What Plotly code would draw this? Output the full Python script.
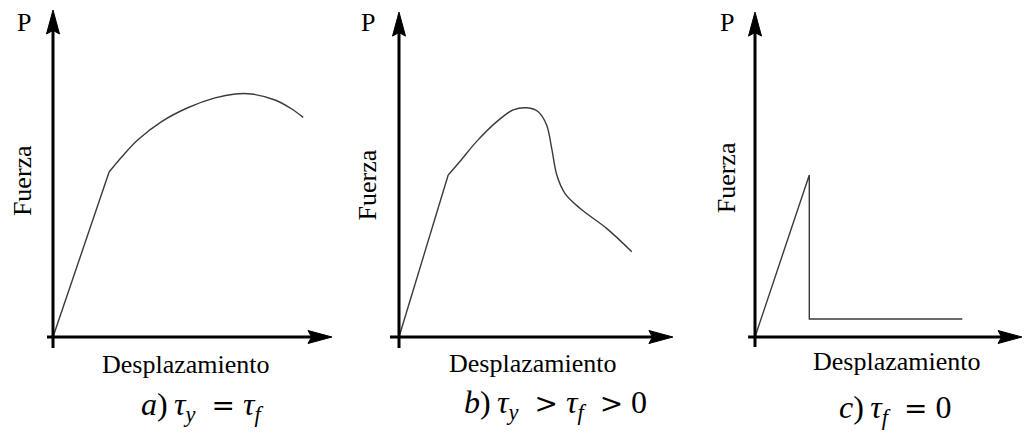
import plotly.graph_objects as go

# ---------------------------------------------------------------
# Force–displacement sketches for three interface shear cases
# ---------------------------------------------------------------

# a) tau_y = tau_f : elastic branch then a smooth hardening/softening arc
a_elastic_x = [0.0, 1.87]
a_elastic_y = [0.0, 5.50]
a_plastic_x = [1.87, 2.29, 2.84, 3.62, 4.51, 5.40, 6.07, 6.62, 7.40, 7.96, 8.34]
a_plastic_y = [5.50, 6.00, 6.58, 7.18, 7.65, 7.97, 8.10, 8.10, 7.90, 7.60, 7.32]

# b) tau_y > tau_f > 0 : peak followed by a sharp drop and residual softening
b_elastic_x = [0.0, 1.64]
b_elastic_y = [0.0, 5.40]
b_plastic_x = [1.64, 2.03, 2.59, 3.26, 3.81, 4.26, 4.64, 4.92, 5.09, 5.26, 5.53, 6.03, 6.92, 7.76]
b_plastic_y = [5.40, 5.85, 6.52, 7.18, 7.57, 7.64, 7.51, 7.07, 6.29, 5.40, 4.79, 4.29, 3.62, 2.84]

# c) tau_f = 0 : brittle failure down to a low constant residual
c_x = [0.0, 1.81, 1.81, 6.91]
c_y = [0.0, 5.40, 0.60, 0.60]

# labels
force_symbol = "P"
force_label = "Fuerza"
disp_label = "Desplazamiento"

EN = "\u2002"   # en space
NB = "\u00a0"   # no-break space


def op(sym):
    """Relational operator set in a wider math-style glyph."""
    return (f'{EN}<span style="font-family:DejaVu Serif;font-size:28px">{sym}</span>{NB}')


captions = [
    f"<i>a</i>)\u2009<i>τ</i><sub><i>y</i></sub>{op('=')}<i>τ</i><sub><i>f</i></sub>",
    f"<i>b</i>)\u2009<i>τ</i><sub><i>y</i></sub>{op('&gt;')}<i>τ</i><sub><i>f</i></sub>{op('&gt;')}0",
    f"<i>c</i>)\u2009<i>τ</i><sub><i>f</i></sub>{op('=')}0",
]

# ---------------------------------------------------------------
# Layout geometry (pixels) and drawing style
# ---------------------------------------------------------------
W, H = 1025, 438
S = 30.0  # pixels per data unit, same on both axes

# per panel: domain left/right (px), origin x/y (px from left/top)
panels = [
    dict(d0=0, d1=340, ox=53, oy=337, xneg=-0.20, yneg=-0.37, xtip=9.30, ytip=10.90,
         p=(-0.97, 10.50), fz=(-1.03, 5.20), ds=(4.42, -0.93), cap=(4.97, -2.30)),
    dict(d0=340, d1=685, ox=399, oy=337, xneg=-0.30, yneg=-0.37, xtip=9.13, ytip=10.83,
         p=(-1.03, 10.50), fz=(-1.05, 5.07), ds=(4.45, -0.87), cap=(5.20, -2.25)),
    dict(d0=685, d1=1025, ox=755, oy=337, xneg=-0.23, yneg=-0.33, xtip=8.90, ytip=10.83,
         p=(-0.92, 10.50), fz=(-0.97, 5.32), ds=(4.73, -0.83), cap=(4.67, -2.42)),
]

AX_W = 3          # axis stroke width (px)
HEAD_L = 24 / S   # arrowhead length (data units)
HEAD_W = 13 / S   # arrowhead width (data units)
CURVE = dict(color="#3a3a3a", width=1.4)
FONT = "Liberation Serif, Times New Roman, serif"

fig = go.Figure()

series = [
    [(a_elastic_x, a_elastic_y, "linear"), (a_plastic_x, a_plastic_y, "spline")],
    [(b_elastic_x, b_elastic_y, "linear"), (b_plastic_x, b_plastic_y, "spline")],
    [(c_x, c_y, "linear")],
]

layout_axes = {}
shapes = []
annotations = []

for i, (pn, curves) in enumerate(zip(panels, series), start=1):
    xa = "x" if i == 1 else f"x{i}"
    ya = "y" if i == 1 else f"y{i}"
    xkey = "xaxis" if i == 1 else f"xaxis{i}"
    ykey = "yaxis" if i == 1 else f"yaxis{i}"

    xr = [(pn["d0"] - pn["ox"]) / S, (pn["d1"] - pn["ox"]) / S]
    yr = [-(H - pn["oy"]) / S, pn["oy"] / S]
    layout_axes[xkey] = dict(domain=[pn["d0"] / W, pn["d1"] / W], range=xr,
                             visible=False, fixedrange=True, anchor=ya)
    layout_axes[ykey] = dict(domain=[0, 1], range=yr,
                             visible=False, fixedrange=True, anchor=xa)

    for xs, ys, shape in curves:
        fig.add_trace(go.Scatter(
            x=xs, y=ys, mode="lines", xaxis=xa, yaxis=ya,
            line=dict(color=CURVE["color"], width=CURVE["width"], shape=shape,
                      smoothing=1.0),
            hoverinfo="skip", showlegend=False,
        ))

    # axis shafts
    shapes.append(dict(type="line", xref=xa, yref=ya, x0=pn["xneg"], y0=0,
                       x1=pn["xtip"] - HEAD_L * 0.6, y1=0,
                       line=dict(color="black", width=AX_W)))
    shapes.append(dict(type="line", xref=xa, yref=ya, x0=0, y0=pn["yneg"],
                       x1=0, y1=pn["ytip"] - HEAD_L * 0.6,
                       line=dict(color="black", width=AX_W)))
    # arrowheads
    xt, yt = pn["xtip"], pn["ytip"]
    shapes.append(dict(type="path", xref=xa, yref=ya,
                       path=f"M{xt},0 L{xt - HEAD_L},{HEAD_W / 2} "
                            f"L{xt - HEAD_L * 0.85},0 L{xt - HEAD_L},{-HEAD_W / 2} Z",
                       fillcolor="black", line=dict(color="black", width=1)))
    shapes.append(dict(type="path", xref=xa, yref=ya,
                       path=f"M0,{yt} L{HEAD_W / 2},{yt - HEAD_L} "
                            f"L0,{yt - HEAD_L * 0.85} L{-HEAD_W / 2},{yt - HEAD_L} Z",
                       fillcolor="black", line=dict(color="black", width=1)))

    label_font = dict(family=FONT, size=26, color="black")
    txt = dict(xref=xa, yref=ya, showarrow=False, xanchor="center", yanchor="middle")
    annotations.append(dict(txt, x=pn["p"][0], y=pn["p"][1], text=force_symbol,
                            font=label_font))
    annotations.append(dict(txt, x=pn["fz"][0], y=pn["fz"][1], text=force_label,
                            textangle=-90, font=label_font))
    annotations.append(dict(txt, x=pn["ds"][0], y=pn["ds"][1], text=disp_label,
                            font=label_font))
    annotations.append(dict(txt, x=pn["cap"][0], y=pn["cap"][1], text=captions[i - 1],
                            font=dict(family=FONT, size=32, color="black")))

fig.update_layout(
    width=W, height=H,
    margin=dict(l=0, r=0, t=0, b=0),
    paper_bgcolor="white", plot_bgcolor="white",
    font=dict(family=FONT, size=26, color="black"),
    shapes=shapes, annotations=annotations,
    showlegend=False,
    **layout_axes,
)

fig.write_html("out.html", config={"displayModeBar": False})
